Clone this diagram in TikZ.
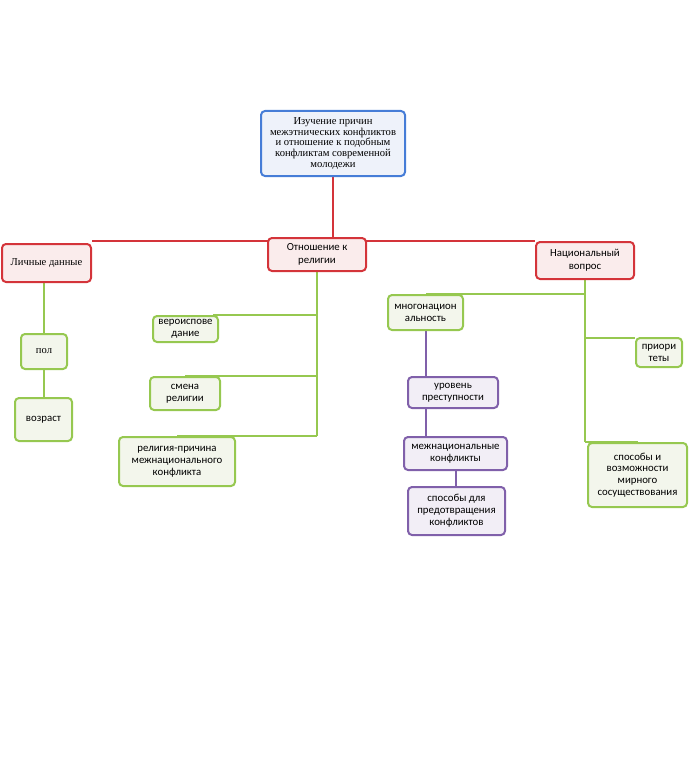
\documentclass[tikz,border=0pt]{standalone}
\usepackage{fontspec}
\setmainfont{Liberation Serif}
\newfontfamily\calfont{Carlito}
\usetikzlibrary{backgrounds}
\definecolor{rc}{RGB}{212,52,58}
\definecolor{gc}{RGB}{150,200,80}
\definecolor{pc}{RGB}{128,96,170}
\definecolor{bc}{RGB}{70,125,215}
\definecolor{rf}{RGB}{250,236,236}
\definecolor{gf}{RGB}{243,246,236}
\definecolor{pf}{RGB}{242,238,246}
\definecolor{bf}{RGB}{238,242,250}
\tikzset{
  box/.style={draw, line width=2pt, rounded corners=4pt, inner sep=0pt, align=center},
  rbox/.style={box, draw=rc, fill=rf},
  gbox/.style={box, draw=gc, fill=gf},
  pbox/.style={box, draw=pc, fill=pf},
  bbox/.style={box, draw=bc, fill=bf},
  sf/.style={font=\calfont\fontsize{10.8}{12}\selectfont},
  rm/.style={font=\fontsize{10.6}{10.8}\selectfont},
  rline/.style={draw=rc, line width=2pt},
  gline/.style={draw=gc, line width=2pt},
  pline/.style={draw=pc, line width=2pt}
}
\begin{document}
\begin{tikzpicture}[x=1pt,y=-1pt]
\useasboundingbox (0,0) rectangle (697,778);
\path
 node[bbox, rm, minimum width=144pt, minimum height=65pt] (top) at (333,143.5) {Изучение причин\\межэтнических конфликтов\\и отношение к подобным\\конфликтам  современной\\молодежи}
 node[rbox, sf, minimum width=98pt, minimum height=33pt, font=\calfont\fontsize{10.8}{13}\selectfont] (rel) at (317,254.5) {Отношение к\\религии}
 node[rbox, rm, minimum width=89pt, minimum height=38pt] (lich) at (46.5,263) {Личные данные}
 node[rbox, sf, minimum width=98pt, minimum height=37pt, font=\calfont\fontsize{10.8}{13}\selectfont] (nat) at (585,260.5) {Национальный\\вопрос}
 node[gbox, rm, minimum width=46pt, minimum height=35pt] (pol) at (44,351.5) {пол}
 node[gbox, sf, minimum width=57pt, minimum height=43pt] (voz) at (43.5,419.5) {возраст}
 node[gbox, sf, minimum width=65pt, minimum height=26pt] (vero) at (185.5,329) {вероиспове\\дание}
 node[gbox, sf, minimum width=70pt, minimum height=33pt] (smena) at (185,393.5) {смена\\религии}
 node[gbox, sf, minimum width=116pt, minimum height=49pt] (prich) at (177,461.5) {религия-причина\\межнационального\\конфликта}
 node[gbox, sf, minimum width=75pt, minimum height=35pt] (mn) at (425.5,312.5) {многонацион\\альность}
 node[gbox, sf, minimum width=46pt, minimum height=29pt] (prio) at (659,352.5) {приори\\теты}
 node[gbox, sf, minimum width=99pt, minimum height=64pt, font=\calfont\fontsize{10.8}{11.6}\selectfont] (sposv) at (637.5,475) {способы и\\возможности\\мирного\\сосуществования}
 node[pbox, sf, minimum width=90pt, minimum height=31pt] (ur) at (453,392.5) {уровень\\преступности}
 node[pbox, sf, minimum width=103pt, minimum height=33pt] (mezh) at (455.5,453.5) {межнациональные\\конфликты}
 node[pbox, sf, minimum width=97pt, minimum height=48pt] (spd) at (456.5,511) {способы для\\предотвращения\\конфликтов};
\begin{scope}[on background layer]
 % red trunk
 \coordinate (hb) at (333,241);
 \draw[rline] (top.south) -- (hb);
 \draw[rline] (lich.north east |- hb) -- (nat.north west |- hb);
 % personal data
 \draw[gline] (pol.north |- lich.south) -- (pol.north);
 \draw[gline] (pol.south) -- (pol.south |- voz.north);
 % religion
 \draw[gline] (rel.south) -- (rel.south |- prich.north);
 \coordinate (rv) at (213,315);
 \draw[gline] (rv) -- (rel.south |- rv);
 \draw[gline] (rel.south |- smena.north) -- (smena.north);
 \draw[gline] (rel.south |- prich.north) -- (prich.north);
 % national question
 \coordinate (nb) at (585,294);
 \coordinate (np) at (585,338);
 \draw[gline] (nat.south) -- (nat.south |- sposv.north);
 \draw[gline] (nb) -| (mn.north);
 \draw[gline] (np) -- (prio.north west |- np);
 \draw[gline] (nat.south |- sposv.north) -- (sposv.north);
 % purple chain
 \draw[pline] (mn.south) -- (mn.south |- mezh.north);
 \draw[pline] (mezh.south) -- (mezh.south |- spd.north);
\end{scope}
\end{tikzpicture}
\end{document}
